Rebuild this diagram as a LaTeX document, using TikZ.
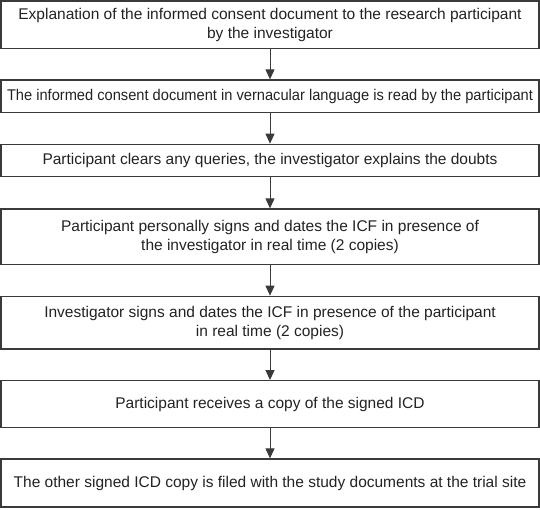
\documentclass[tikz,border=0pt]{standalone}
\usepackage{fontspec}
\setmainfont{Liberation Sans}
\usetikzlibrary{arrows.meta}
\definecolor{edge}{HTML}{3A3A3A}
\definecolor{ink}{HTML}{222222}
\tikzset{
  stepbox/.style={draw=edge, line width=1.3pt, minimum width=538pt, inner sep=0pt,
    align=center, text=ink, font=\fontsize{15.5}{19}\selectfont},
  flow/.style={draw=edge, line width=1pt, -{Triangle[width=9pt,length=10pt]}, shorten >=0pt}
}
\begin{document}
\begin{tikzpicture}[x=1pt,y=1pt]
\useasboundingbox (0,0) rectangle (540,-509);
\node[stepbox, minimum height=47.5pt] (b1) at (270,-24.75) {Explanation of the informed consent document to the research participant\\by the investigator};
\node[stepbox, minimum height=32.7pt] (b2) at (270,-96.35) {\scalebox{0.945}[1]{The informed consent document in vernacular language is read by the participant}};
\node[stepbox, minimum height=32.4pt] (b3) at (270,-160.5) {Participant clears any queries, the investigator explains the doubts};
\node[stepbox, minimum height=55.7pt] (b4) at (270,-236.85) {Participant personally signs and dates the ICF in presence of\\the investigator in real time (2 copies)};
\node[stepbox, minimum height=52.7pt] (b5) at (270,-322.65) {Investigator signs and dates the ICF in presence of the participant\\in real time (2 copies)};
\node[stepbox, minimum height=46.6pt] (b6) at (270,-404) {Participant receives a copy of the signed ICD};
\node[stepbox, minimum height=48pt] (b7) at (270,-483) {The other signed ICD copy is filed with the study documents at the trial site};
\draw[flow] (b1) -- (b2);
\draw[flow] (b2) -- (b3);
\draw[flow] (b3) -- (b4);
\draw[flow] (b4) -- (b5);
\draw[flow] (b5) -- (b6);
\draw[flow] (b6) -- (b7);
\end{tikzpicture}
\end{document}
